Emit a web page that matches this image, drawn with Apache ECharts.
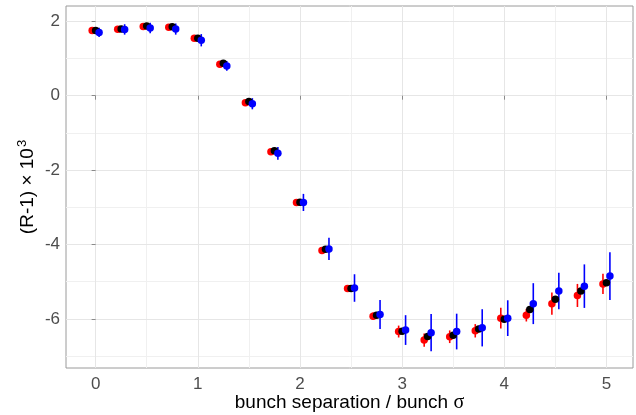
<!DOCTYPE html>
<html>
<head>
<meta charset="utf-8">
<script src="https://cdn.jsdelivr.net/npm/echarts@6/dist/echarts.min.js"></script>
<style>
  html, body { margin: 0; padding: 0; background: #ffffff; }
  #chart { width: 636px; height: 415px; }
</style>
</head>
<body>
<div id="chart"></div>
<script>
// Bunch separation in units of bunch sigma
const separation = [0, 0.25, 0.5, 0.75, 1, 1.25, 1.5, 1.75, 2, 2.25, 2.5,
                    2.75, 3, 3.25, 3.5, 3.75, 4, 4.25, 4.5, 4.75, 5];

// (R-1) x 10^3 for the three cases, with their uncertainties
const redValues   = [1.75, 1.785, 1.86, 1.84, 1.544, 0.847, -0.19, -1.505, -2.872, -4.16, -5.18,
                     -5.93, -6.34, -6.57, -6.48, -6.32, -5.98, -5.90, -5.59, -5.37, -5.06];
const redErrors   = [0.04, 0.04, 0.04, 0.04, 0.04, 0.05, 0.05, 0.05, 0.06, 0.06, 0.07,
                     0.1, 0.16, 0.18, 0.17, 0.18, 0.28, 0.17, 0.3, 0.31, 0.27];

const blackValues = [1.75, 1.79, 1.875, 1.85, 1.544, 0.874, -0.16, -1.478, -2.862, -4.13, -5.18,
                     -5.90, -6.33, -6.47, -6.44, -6.27, -6.01, -5.75, -5.47, -5.25, -5.03];

const blueValues  = [1.70, 1.78, 1.82, 1.79, 1.49, 0.80, -0.217, -1.55, -2.87, -4.12, -5.17,
                     -5.88, -6.30, -6.37, -6.34, -6.24, -5.98, -5.59, -5.25, -5.12, -4.85];
const blueErrors  = [0.125, 0.14, 0.14, 0.15, 0.165, 0.13, 0.15, 0.17, 0.23, 0.30, 0.37,
                     0.39, 0.40, 0.50, 0.48, 0.50, 0.48, 0.55, 0.49, 0.585, 0.64];

// Axis ticks
const xMajorTicks = [0, 1, 2, 3, 4, 5];
const xMinorTicks = [0.5, 1.5, 2.5, 3.5, 4.5];
const yMajorTicks = [-6, -4, -2, 0, 2];
const yMinorTicks = [-7, -5, -3, -1, 1];

// horizontal dodge between the three groups
const dodge = 0.034;
const xRange = [-0.29, 5.26];
const yRange = [-7.32, 2.41];

function points(values, shift) {
  return separation.map((s, i) => [s + shift, values[i]]);
}
function bars(values, errors, shift) {
  return separation.map((s, i) => [s + shift, values[i] - errors[i], values[i] + errors[i]]);
}

function errorBarSeries(name, color, data) {
  return {
    name: name,
    type: 'custom',
    xAxisIndex: 0,
    yAxisIndex: 0,
    encode: { x: 0, y: [1, 2] },
    data: data,
    z: 2,
    silent: true,
    renderItem: function (params, api) {
      const lo = api.coord([api.value(0), api.value(1)]);
      const hi = api.coord([api.value(0), api.value(2)]);
      return {
        type: 'line',
        shape: { x1: lo[0], y1: lo[1], x2: hi[0], y2: hi[1] },
        style: { stroke: color, lineWidth: 1.6 }
      };
    }
  };
}

function pointSeries(name, color, data, z) {
  return {
    name: name,
    type: 'scatter',
    xAxisIndex: 0,
    yAxisIndex: 0,
    data: data,
    symbol: 'circle',
    symbolSize: 7.5,
    itemStyle: { color: color, opacity: 1 },
    z: z,
    silent: true
  };
}

const tickFont = { fontFamily: 'Liberation Sans', fontSize: 17, color: '#4d4d4d' };
const majorGrid = { show: true, lineStyle: { color: '#e6e6e6', width: 1 } };
const minorGrid = { show: true, lineStyle: { color: '#f0f0f0', width: 1 } };

const chart = echarts.init(document.getElementById('chart'), null, { renderer: 'canvas' });

chart.setOption({
  animation: false,
  backgroundColor: '#ffffff',
  grid: {
    left: 66, right: 3, top: 6, bottom: 47,
    containLabel: false,
    outerBoundsMode: 'none',
    show: true, borderColor: '#9a9a9a', borderWidth: 1, backgroundColor: 'transparent'
  },
  xAxis: [
    {
      type: 'value', min: xRange[0], max: xRange[1],
      axisLine: { show: false },
      axisTick: { show: true, customValues: xMajorTicks, length: 4, lineStyle: { color: '#8a8a8a' } },
      axisLabel: Object.assign({ customValues: xMajorTicks, margin: 8 }, tickFont),
      splitLine: majorGrid,
      name: 'bunch separation / bunch {s|σ}',
      nameLocation: 'middle',
      nameMoveOverlap: false,
      nameGap: 25,
      nameTextStyle: {
        fontFamily: 'Liberation Sans', fontSize: 19, color: '#000000',
        rich: { s: { fontFamily: 'Liberation Serif', fontSize: 20, color: '#000000' } }
      },
      z: 1
    },
    {
      type: 'value', min: xRange[0], max: xRange[1], position: 'bottom',
      axisLine: { show: false },
      axisTick: { show: false, customValues: xMinorTicks },
      axisLabel: { show: false, customValues: xMinorTicks },
      splitLine: minorGrid,
      z: 0
    }
  ],
  yAxis: [
    {
      type: 'value', min: yRange[0], max: yRange[1],
      axisLine: { show: false },
      axisTick: { show: true, customValues: yMajorTicks, length: 4, lineStyle: { color: '#8a8a8a' } },
      axisLabel: Object.assign({ customValues: yMajorTicks, margin: 6 }, tickFont),
      splitLine: majorGrid,
      name: '(R-1) × 10{sup|3}',
      nameLocation: 'middle',
      nameMoveOverlap: false,
      nameRotate: 90,
      nameGap: 27,
      nameTextStyle: {
        fontFamily: 'Liberation Sans', fontSize: 19, color: '#000000',
        rich: { sup: { fontFamily: 'Liberation Sans', fontSize: 13, color: '#000000', verticalAlign: 'bottom', padding: [0, 0, 10, 1] } }
      },
      z: 1
    },
    {
      type: 'value', min: yRange[0], max: yRange[1], position: 'left',
      axisLine: { show: false },
      axisTick: { show: false, customValues: yMinorTicks },
      axisLabel: { show: false, customValues: yMinorTicks },
      splitLine: minorGrid,
      z: 0
    }
  ],
  series: [
    errorBarSeries('red-err', '#ff0000', bars(redValues, redErrors, -dodge)),
    errorBarSeries('blue-err', '#0000ff', bars(blueValues, blueErrors, dodge)),
    pointSeries('red', '#ff0000', points(redValues, -dodge), 3),
    pointSeries('black', '#000000', points(blackValues, 0), 4),
    pointSeries('blue', '#0000ff', points(blueValues, dodge), 5)
  ]
});
</script>
</body>
</html>
